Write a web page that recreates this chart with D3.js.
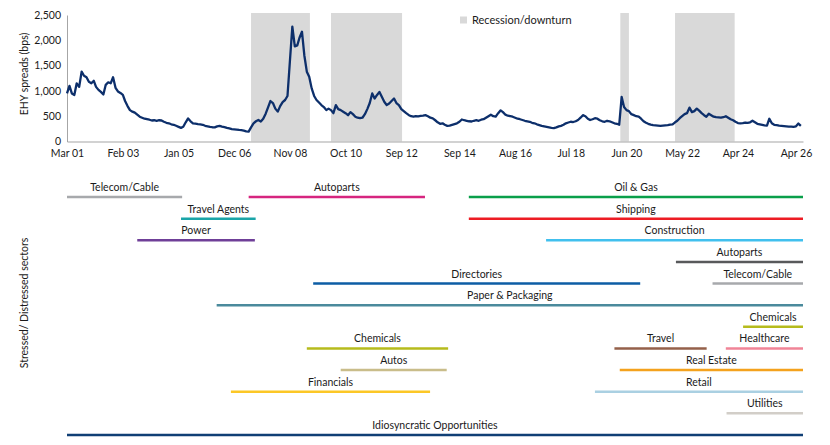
<!DOCTYPE html>
<html>
<head>
<meta charset="utf-8">
<script src="https://cdn.jsdelivr.net/npm/d3@7"></script>
<style>
  body { margin: 0; background: #fff; }
  svg text { font-family: Lato, "Noto Sans", sans-serif; fill: #1a1a1a; }
</style>
</head>
<body>
<div id="chart"></div>
<script>
// monthly EHY spread (bps), starting Mar 2001
const spreadStart = new Date(2001, 2, 1)
const ehySpreads = [
  950,1100,950,920,1150,1080,1380,1300,1270,1180,1150,1200,
  1080,1020,980,930,1120,1170,1150,1270,1060,990,960,920,
  800,700,620,590,570,530,490,470,450,440,430,415,
  420,410,420,415,390,370,360,340,330,310,290,270,
  290,380,455,400,360,355,345,340,330,310,300,290,
  282,280,300,310,295,285,270,260,245,240,235,228,
  226,215,200,195,280,360,400,425,395,450,550,680,
  800,760,650,590,700,780,820,900,1600,2270,1880,1900,
  2050,2170,1700,1380,1280,1050,900,820,770,720,680,620,
  650,620,560,720,640,620,590,560,520,580,540,490,
  470,460,470,540,640,760,950,850,920,980,880,780,
  720,750,800,850,760,720,640,600,560,525,500,490,
  500,495,505,510,520,500,470,458,420,380,350,360,
  330,310,315,330,345,360,390,435,420,410,400,395,
  410,420,410,430,440,470,500,530,500,490,560,615,
  580,530,510,500,490,470,450,440,425,410,400,390,
  370,360,340,325,310,300,290,280,270,265,280,300,
  310,330,360,375,390,385,400,425,470,520,500,450,
  425,440,460,450,420,400,390,410,400,380,360,350,
  330,880,680,620,600,540,520,500,490,450,400,370,
  350,335,325,320,315,310,315,320,325,335,340,380,
  410,460,500,540,560,670,580,600,650,610,560,520,
  490,550,520,490,480,475,470,480,500,470,440,420,
  390,365,360,365,375,370,380,410,380,350,340,330,
  320,315,450,360,330,325,315,310,305,300,295,295,
  290,300,355,310
]

const tickDates = ["2001-03","2003-02","2005-01","2006-12","2008-11","2010-10","2012-09",
                   "2014-09","2016-08","2018-07","2020-06","2022-05","2024-04","2026-04"]
const tickLabels = ["Mar 01","Feb 03","Jan 05","Dec 06","Nov 08","Oct 10","Sep 12",
                    "Sep 14","Aug 16","Jul 18","Jun 20","May 22","Apr 24","Apr 26"]
const yTicks = [0, 500, 1000, 1500, 2000, 2500]

const recessions = [
  ["2007-07-01","2009-07-10"],
  ["2010-04-01","2012-09-10"],
  ["2020-03-15","2020-07-01"],
  ["2022-02-01","2024-02-20"]
]

// sector stress periods: name, row, from, to
const sectorNames = ["Telecom/Cable","Autoparts","Oil & Gas","Travel Agents","Shipping","Power",
  "Construction","Autoparts","Directories","Telecom/Cable","Paper & Packaging","Chemicals",
  "Chemicals","Travel","Healthcare","Autos","Real Estate","Financials","Retail","Utilities",
  "Idiosyncratic Opportunities"]
const sectorRows = [0,0,0,1,1,2,2,3,4,4,5,6,7,7,7,8,8,9,9,10,11]
const sectorFrom = ["2001-03-01","2007-06-01","2014-12-28","2005-02-01","2014-12-28","2003-08-01",
  "2017-08-25","2022-02-12","2009-08-20","2023-05-18","2006-04-25","2024-06-05",
  "2009-06-01","2020-01-01","2023-11-01","2010-08-01","2020-03-08","2006-10-21","2019-05-01","2023-11-10",
  "2001-03-01"]
const sectorTo = ["2005-02-15","2013-06-25","2026-06-28","2007-08-28","2026-06-28","2007-08-18",
  "2026-06-28","2026-06-28","2020-11-20","2026-06-28","2026-06-28","2026-06-28",
  "2014-04-12","2023-03-05","2026-06-28","2014-03-25","2026-06-28","2013-08-28","2026-06-28","2026-06-28",
  "2026-06-28"]
const sectorColours = ["#a7a9ac","#d6257f","#0a9f4a","#1aa5a8","#ed1c24","#6f3f98",
  "#41c0ee","#58595b","#0c5da5","#a7a9ac","#4a8a9c","#b6bb1c",
  "#b6bb1c","#94604a","#f08497","#c9bd8a","#f4a21d","#fcc726","#aad0e2","#d2cec8",
  "#103f75"]

const W = 830, H = 445
const svg = d3.select("#chart").append("svg")
  .attr("width", W).attr("height", H)

const parse = d3.timeParse("%Y-%m-%d")
const parseMonth = d3.timeParse("%Y-%m")

const x = d3.scaleTime()
  .domain([spreadStart, new Date(2026, 5, 28)])
  .range([67, 803])

const y = d3.scaleLinear()
  .domain([0, 2500])
  .range([141.5, 15])

// recession bands
svg.append("g").selectAll("rect")
  .data(recessions)
  .join("rect")
  .attr("x", d => x(parse(d[0])))
  .attr("width", d => x(parse(d[1])) - x(parse(d[0])))
  .attr("y", 13)
  .attr("height", y(0) - 13)
  .attr("fill", "#d9d9d9")

// axes
let xAxis = svg.append("g")
  .attr("transform", `translate(0,${y(0)})`)
  .call(d3.axisBottom(x)
    .tickValues(tickDates.map(parseMonth))
    .tickFormat((d, i) => tickLabels[i])
    .tickSize(0)
    .tickPadding(8))
xAxis.select(".domain").attr("stroke", "#a6a6a6").attr("stroke-width", 1.2)
xAxis.selectAll("text").attr("font-size", 10.5).style("font-family", "Lato")

let yAxis = svg.append("g")
  .attr("transform", "translate(67,0)")
  .call(d3.axisLeft(y)
    .tickValues(yTicks)
    .tickFormat(d3.format(","))
    .tickSize(0)
    .tickPadding(6))
yAxis.select(".domain").attr("stroke", "#a6a6a6").attr("stroke-width", 1)
yAxis.selectAll("text").attr("font-size", 10.5).style("font-family", "Lato")

// spread line
const series = ehySpreads.map((v, i) => ({date: d3.timeMonth.offset(spreadStart, i), value: v}))
svg.append("path")
  .datum(series)
  .attr("fill", "none")
  .attr("stroke", "#0d2f6b")
  .attr("stroke-width", 2.3)
  .attr("stroke-linejoin", "round")
  .attr("d", d3.line().x(d => x(d.date)).y(d => y(d.value)))

// legend
svg.append("rect")
  .attr("x", 460).attr("y", 16.5).attr("width", 7).attr("height", 7)
  .attr("fill", "#d9d9d9")
svg.append("text")
  .attr("x", 472).attr("y", 23.5)
  .attr("font-size", 11)
  .text("Recession/downturn")

// y titles
svg.append("text")
  .attr("transform", "translate(28,74) rotate(-90)")
  .attr("text-anchor", "middle")
  .attr("font-size", 10.5)
  .text("EHY spreads (bps)")

svg.append("text")
  .attr("transform", "translate(28,303) rotate(-90)")
  .attr("text-anchor", "middle")
  .attr("font-size", 10.5)
  .text("Stressed/ Distressed sectors")

// sector timelines
const rowY = d3.scaleLinear().domain([0, 11]).range([197, 435])
const sectors = sectorNames.map((n, i) => ({
  name: n, row: sectorRows[i], from: parse(sectorFrom[i]), to: parse(sectorTo[i]), colour: sectorColours[i]
}))

const sg = svg.append("g")
sg.selectAll("line")
  .data(sectors)
  .join("line")
  .attr("x1", d => x(d.from))
  .attr("x2", d => x(d.to))
  .attr("y1", d => rowY(d.row))
  .attr("y2", d => rowY(d.row))
  .attr("stroke", d => d.colour)
  .attr("stroke-width", 2.5)

sg.selectAll("text")
  .data(sectors)
  .join("text")
  .attr("x", d => (x(d.from) + x(d.to)) / 2)
  .attr("y", d => rowY(d.row) - 6)
  .attr("text-anchor", "middle")
  .attr("font-size", 10.5)
  .text(d => d.name)
</script>
</body>
</html>
